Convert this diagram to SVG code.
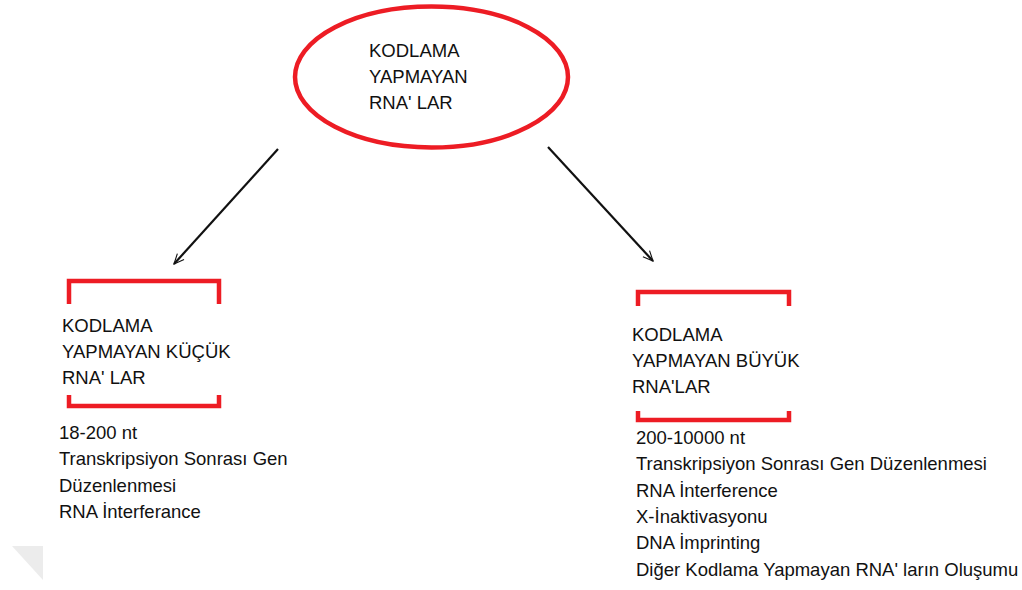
<svg xmlns="http://www.w3.org/2000/svg" width="1022" height="590" viewBox="0 0 1022 590">
<style>
text{font-family:"Liberation Sans",Arial,sans-serif;font-size:18.5px;fill:#111}
.red{fill:none;stroke:#ed1c24;stroke-width:4.5}
.conn{stroke:#111;stroke-width:2.2;fill:none}
</style>
<defs>
<marker id="arr" viewBox="0 0 24 24" refX="22" refY="12" markerWidth="12" markerHeight="12" markerUnits="userSpaceOnUse" orient="auto">
<path d="M2,3 L22,12 L2,21" fill="none" stroke="#111" stroke-width="2.2"/>
</marker>
</defs>
<rect width="1022" height="590" fill="#fff"/>
<polygon points="12,546 43,546 43,580" fill="#ececec"/>
<g id="root">
<ellipse class="red" cx="431.5" cy="77" rx="136.5" ry="70.5" stroke-width="5"/>
<text x="369" y="57">KODLAMA</text>
<text x="369" y="83">YAPMAYAN</text>
<text x="369" y="109">RNA' LAR</text>
</g>
<g id="small">
<path class="red" d="M69,304 V281 H219 V304"/>
<path class="red" d="M69,395 V406 H219 V395"/>
<text x="62" y="332">KODLAMA</text>
<text x="62" y="358">YAPMAYAN KÜÇÜK</text>
<text x="62" y="384">RNA' LAR</text>
<text x="59" y="439">18-200 nt</text>
<text x="59" y="465">Transkripsiyon Sonrası Gen</text>
<text x="59" y="492">Düzenlenmesi</text>
<text x="59" y="518">RNA İnterferance</text>
</g>
<g id="large">
<path class="red" d="M638,306 V292 H789 V306"/>
<path class="red" d="M638,411 V420 H789 V411"/>
<text x="632" y="341">KODLAMA</text>
<text x="632" y="367">YAPMAYAN BÜYÜK</text>
<text x="632" y="393">RNA'LAR</text>
<text x="636" y="444">200-10000 nt</text>
<text x="636" y="470">Transkripsiyon Sonrası Gen Düzenlenmesi</text>
<text x="636" y="497">RNA İnterference</text>
<text x="636" y="523">X-İnaktivasyonu</text>
<text x="636" y="549">DNA İmprinting</text>
<text x="636" y="576">Diğer Kodlama Yapmayan RNA' ların Oluşumu</text>
</g>
<g id="connectors">
<line class="conn" x1="278" y1="149" x2="174" y2="264" marker-end="url(#arr)"/>
<line class="conn" x1="548" y1="147" x2="653" y2="261" marker-end="url(#arr)"/>
</g>
</svg>
